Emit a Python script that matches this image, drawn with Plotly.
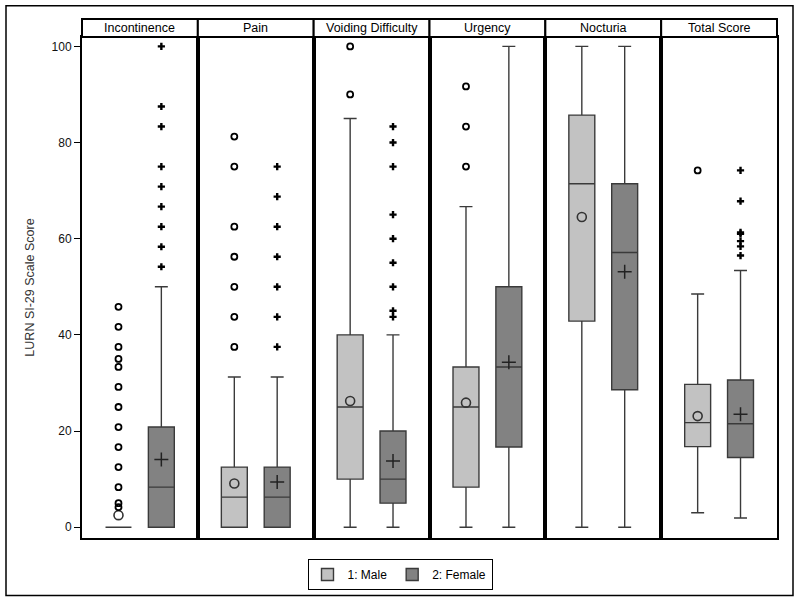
import plotly.graph_objects as go
from plotly.subplots import make_subplots

panels = ["Incontinence", "Pain", "Voiding Difficulty", "Urgency", "Nocturia", "Total Score"]
groups = ["1: Male", "2: Female"]

# box statistics per panel: [male, female]
q1 = [[0, 0], [0, 0], [10, 5], [8.33, 16.67], [42.86, 28.57], [16.75, 14.5]]
median = [[0, 8.33], [6.25, 6.25], [25, 10], [25, 33.33], [71.43, 57.14], [21.75, 21.5]]
q3 = [[0, 20.83], [12.5, 12.5], [40, 20], [33.33, 50], [85.71, 71.43], [29.7, 30.6]]
lower = [[0, 0], [0, 0], [0, 0], [0, 0], [0, 0], [3.0, 1.9]]
upper = [[0, 50], [31.25, 31.25], [85, 40], [66.67, 100], [100, 100], [48.5, 53.4]]
means = [[2.5, 14.1], [9.1, 9.4], [26.25, 13.75], [25.9, 34.3], [64.5, 53.1], [23.1, 23.5]]

male_outliers = [
    [4.17, 5.0, 8.33, 12.5, 16.67, 20.83, 25, 29.17, 33.33, 35, 37.5, 41.67, 45.83],
    [37.5, 43.75, 50, 56.25, 62.5, 75, 81.25],
    [90, 100],
    [75, 83.33, 91.67],
    [],
    [74.2],
]
female_outliers = [
    [54.17, 58.33, 62.5, 66.67, 70.83, 75, 83.33, 87.5, 100],
    [37.5, 43.75, 50, 56.25, 62.5, 68.75, 75],
    [43.75, 45, 50, 55, 60, 65, 75, 80, 83.33],
    [],
    [],
    [56.5, 58.4, 59.5, 61.0, 61.3, 67.8, 74.2],
]

positions = [0.315, 0.685]
fills = ["#c2c2c2", "#828282"]

fig = make_subplots(rows=1, cols=6, shared_yaxes=True, horizontal_spacing=0)

for i in range(6):
    col = i + 1
    for g in range(2):
        fig.add_trace(go.Box(
            x=[positions[g]], q1=[q1[i][g]], median=[median[i][g]], q3=[q3[i][g]],
            lowerfence=[lower[i][g]], upperfence=[upper[i][g]],
            width=0.224, whiskerwidth=0.5, boxpoints=False,
            fillcolor=fills[g], line=dict(color="#3a3a3a", width=1.4),
            name=groups[g], legendgroup=groups[g], showlegend=(i == 0),
            hoverinfo="skip"), row=1, col=col)
    # means
    fig.add_trace(go.Scatter(
        x=[positions[0]], y=[means[i][0]], mode="markers",
        marker=dict(symbol="circle-open", size=9, color="#333333", line=dict(width=1.6)),
        showlegend=False, hoverinfo="skip"), row=1, col=col)
    fig.add_trace(go.Scatter(
        x=[positions[1]], y=[means[i][1]], mode="markers",
        marker=dict(symbol="cross-thin-open", size=10, color="#222222", line=dict(width=1.5, color="#222222")),
        showlegend=False, hoverinfo="skip"), row=1, col=col)
    # outliers
    if male_outliers[i]:
        fig.add_trace(go.Scatter(
            x=[positions[0]] * len(male_outliers[i]), y=male_outliers[i], mode="markers",
            marker=dict(symbol="circle-open", size=6, color="black", line=dict(width=1.8, color="black")),
            showlegend=False, hoverinfo="skip"), row=1, col=col)
    if female_outliers[i]:
        fig.add_trace(go.Scatter(
            x=[positions[1]] * len(female_outliers[i]), y=female_outliers[i], mode="markers",
            marker=dict(symbol="cross", size=6, color="black"),
            showlegend=False, hoverinfo="skip"), row=1, col=col)

plot_h = 501.2
head_h = 18.0
shapes = []
annotations = []
for i in range(6):
    xr = "x domain" if i == 0 else "x%d domain" % (i + 1)
    shapes.append(dict(type="rect", xref=xr, yref="paper", x0=0, x1=1, y0=1, y1=1 + head_h / plot_h,
                       line=dict(color="black", width=2), fillcolor="white", layer="above"))
    annotations.append(dict(text=panels[i], xref=xr, yref="paper", x=0.5, y=1 + head_h / 2 / plot_h,
                            xanchor="center", yanchor="middle", showarrow=False,
                            font=dict(family="Liberation Sans, Arial", size=12.5, color="black")))

# outer frame
shapes.append(dict(type="rect", xref="paper", yref="paper",
                   x0=(6 - 82) / 695, x1=(793 - 82) / 695,
                   y0=(538.5 - 596) / plot_h, y1=(538.5 - 6) / plot_h,
                   line=dict(color="black", width=1.5), fillcolor="rgba(0,0,0,0)", layer="above"))

fig.update_xaxes(range=[0, 1], showgrid=False, zeroline=False, showticklabels=False, ticks="",
                 showline=True, mirror=True, linecolor="black", linewidth=2)
fig.update_yaxes(range=[-2.25, 101.95], showgrid=False, zeroline=False,
                 showline=True, mirror=True, linecolor="black", linewidth=2)
fig.update_yaxes(tickvals=[0, 20, 40, 60, 80, 100], ticks="outside", ticklen=6, tickcolor="black",
                 tickfont=dict(family="Liberation Sans, Arial", size=12, color="#111111"),
                 title=dict(text="LURN SI-29 Scale Score", standoff=14,
                            font=dict(family="Liberation Sans, Arial", size=12.5, color="#333333")),
                 row=1, col=1)

fig.update_layout(
    width=800, height=603,
    margin=dict(l=82, r=23, t=37.3, b=64.5, pad=0, autoexpand=False),
    paper_bgcolor="white", plot_bgcolor="white",
    shapes=shapes, annotations=annotations,
    boxmode="overlay",
    legend=dict(orientation="h", x=400 / 800, xref="container", xanchor="center",
                y=1 - 574.5 / 603, yref="container", yanchor="middle",
                bordercolor="black", borderwidth=1, itemwidth=30,
                font=dict(family="Liberation Sans, Arial", size=12, color="black")),
)

fig.write_html("out.html", config={"displayModeBar": False},
               post_script="document.body.style.margin='0px';document.body.style.padding='0px';")
